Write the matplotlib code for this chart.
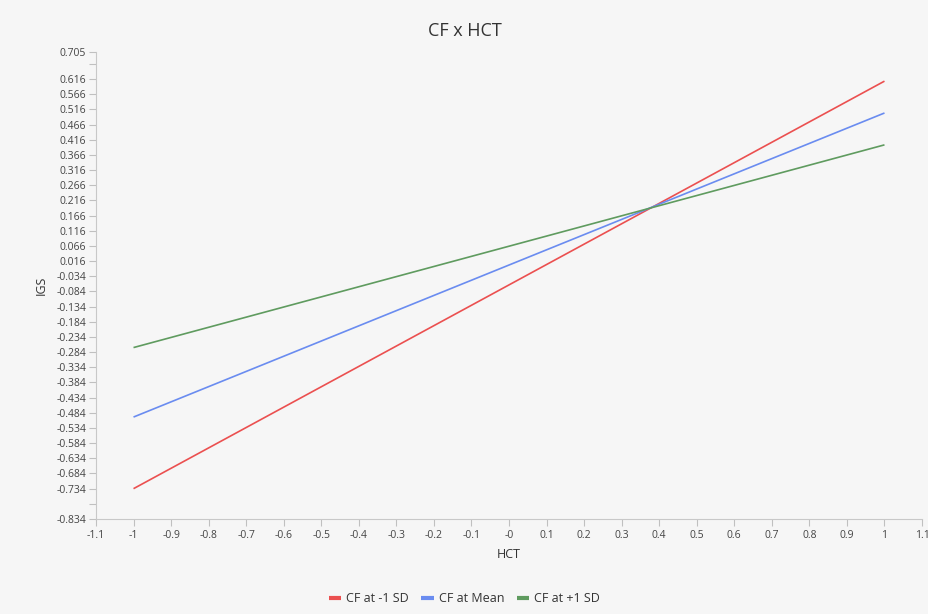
import matplotlib
matplotlib.use("Agg")
import matplotlib.pyplot as plt

hct = [-1, 1]
cf_minus = [-0.734, 0.609]
cf_mean = [-0.498, 0.504]
cf_plus = [-0.269, 0.399]

series_labels = ["CF at -1 SD", "CF at Mean", "CF at +1 SD"]
series_colors = ["#eb5050", "#6a8cf0", "#5f9b5f"]

x_ticks = [round(-1.1 + 0.1 * i, 1) for i in range(23)]
x_ticklabels = ["-1.1", "-1", "-0.9", "-0.8", "-0.7", "-0.6", "-0.5", "-0.4", "-0.3", "-0.2",
                "-0.1", "-0", "0.1", "0.2", "0.3", "0.4", "0.5", "0.6", "0.7", "0.8", "0.9", "1", "1.1"]
y_ticks = [0.705] + [round(0.616 - 0.05 * i, 3) for i in range(28)] + [-0.834]
y_minor = [0.666, -0.784]

plt.rcParams['font.family'] = ['Open Sans', 'DejaVu Sans']
bg = "#f6f6f6"
fig = plt.figure(figsize=(9.29, 6.14), dpi=100, facecolor=bg)
ax = fig.add_axes([0.1033, 0.1547, 0.8892, 0.7606], facecolor=bg)

for ys, lab, col in zip([cf_minus, cf_mean, cf_plus], series_labels, series_colors):
    ax.plot(hct, ys, color=col, lw=1.2, label=lab, solid_capstyle='butt')

ax.set_xlim(-1.1, 1.1)
ax.set_ylim(-0.834, 0.705)
ax.set_xticks(x_ticks)
ax.set_xticklabels(x_ticklabels)
ax.set_yticks(y_ticks)
ax.set_yticklabels([f"{v:.3f}" for v in y_ticks])
ax.set_yticks(y_minor, minor=True)

for s in ["top", "right"]:
    ax.spines[s].set_visible(False)
for s in ["left", "bottom"]:
    ax.spines[s].set_color("#c8c8c8")
    ax.spines[s].set_linewidth(0.8)
ax.tick_params(axis='both', which='both', colors="#c0c0c0", labelcolor="#444444",
               labelsize=7.5, length=5, width=0.8)
ax.tick_params(axis='y', pad=2)
ax.tick_params(axis='x', pad=3)

ax.set_xlabel("HCT", fontsize=9, color="#333333", labelpad=5)
ax.set_ylabel("IGS", fontsize=9, color="#333333", labelpad=6)
fig.text(0.5, 0.95, "CF x HCT", ha='center', va='center', fontsize=13, color="#333333")

leg = fig.legend(loc='center', bbox_to_anchor=(0.5, 0.025), ncol=3, frameon=False,
                 fontsize=9, handlelength=1.0, handletextpad=0.4, columnspacing=1.0)
for line in leg.get_lines():
    line.set_linewidth(3)
for t in leg.get_texts():
    t.set_color("#333333")

fig.savefig("out.png", dpi=100, facecolor=bg)
